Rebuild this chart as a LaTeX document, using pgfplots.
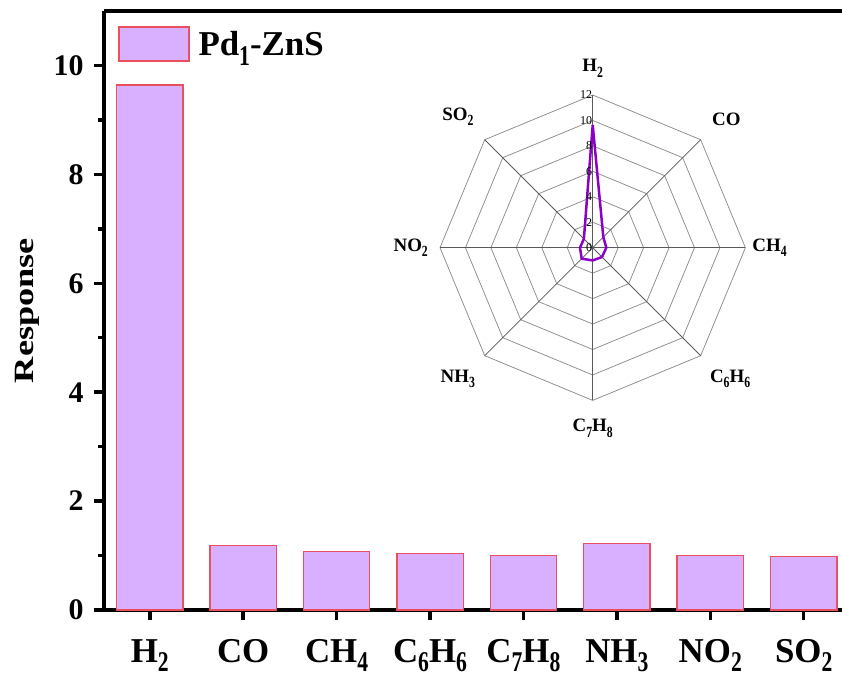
\documentclass[border=0pt]{standalone}
\usepackage{fontspec}
\setmainfont{Liberation Serif}
\newfontfamily\stretchfont[FakeStretch=1.3]{Liberation Serif}
\usepackage{graphicx}
\usepackage{pgfplots}
\pgfplotsset{compat=1.18}
\usetikzlibrary{calc}
\newcommand\sub[1]{\raisebox{-0.28em}{\scalebox{0.62}[0.82]{#1}}}
\definecolor{barfill}{RGB}{216,176,255}
\definecolor{baredge}{RGB}{232,80,96}
\definecolor{radarc}{RGB}{140,0,200}
\begin{document}
\begin{tikzpicture}
\begin{axis}[name=main,
  scale only axis, width=738bp, height=599bp,
  xmin=-0.49, xmax=7.41, ymin=0, ymax=11,
  axis x line*=bottom, axis y line*=left,
  axis line style={line width=3.5bp, -},
  clip=false,
  xtick={0,...,7},
  xticklabels={H\sub{2},CO,CH\sub{4},C\sub{6}H\sub{6},C\sub{7}H\sub{8},NH\sub{3},NO\sub{2},SO\sub{2}},
  ytick={0,2,...,10}, minor ytick={1,3,...,9},
  tick align=outside,
  major tick length=10bp, minor tick length=6bp,
  every tick/.style={black, line width=3.5bp},
  /pgf/number format/assume math mode=true,
  yticklabel style={font=\fontsize{30}{30}\selectfont\bfseries, xshift=-7bp},
  xticklabel style={font=\fontsize{35}{40}\selectfont\bfseries, anchor=base, yshift=-42bp},
  ylabel={\stretchfont\bfseries Response},
  ylabel style={font=\fontsize{28}{30}\selectfont, at={(axis description cs:-0.104,0.5)}, anchor=center},
  legend style={draw=none, fill=none, at={(0.015,0.978)}, anchor=north west,
    font=\fontsize{35}{40}\selectfont\bfseries, nodes={inner xsep=9bp}},
]
\addplot[ybar, bar width=0.71, fill=barfill, draw=baredge, line width=1.3bp,
  legend image code/.code={\draw[##1] (0bp,-17bp) rectangle (70bp,17bp);}]
  coordinates {(0,9.64) (1,1.18) (2,1.07) (3,1.035) (4,1.0) (5,1.22) (6,1.0) (7,0.98)};
\addlegendentry{Pd\sub{1}-ZnS}
\draw[line width=3.5bp] (rel axis cs:0,1) -- (rel axis cs:1,1);
\end{axis}
\begin{axis}[at={($(main.south west)+(488.7bp,362.3bp)$)}, anchor=origin,
  scale only axis, width=305.4bp, height=305.4bp,
  xmin=-12, xmax=12, ymin=-12, ymax=12, hide axis, clip=false]
\pgfplotsinvokeforeach{2,4,...,12}{
  \addplot[black!45, line width=0.75bp, data cs=polar] coordinates {(90,#1) (45,#1) (0,#1) (-45,#1) (-90,#1) (-135,#1) (180,#1) (135,#1) (90,#1)};
}
\addplot[black!65, line width=0.75bp, data cs=polar] coordinates {(90,12) (270,12)};
\addplot[black!65, line width=0.75bp, data cs=polar] coordinates {(45,12) (225,12)};
\addplot[black!65, line width=0.75bp, data cs=polar] coordinates {(0,12) (180,12)};
\addplot[black!65, line width=0.75bp, data cs=polar] coordinates {(135,12) (315,12)};
\addplot[radarc, line width=2.5bp, line join=round, data cs=polar] coordinates {(90,9.64) (45,1.18) (0,1.07) (-45,1.035) (-90,1.0) (-135,1.22) (180,1.0) (135,0.98) (90,9.64)};
\pgfplotsinvokeforeach{0,2,...,12}{
  \node[anchor=east, font=\fontsize{12}{12}\selectfont, inner sep=0.5bp] at (axis cs:0,#1) {#1};
}
\begin{scope}[every node/.style={font=\fontsize{19}{20}\selectfont\bfseries, inner sep=0pt}]
\node at (axis cs:0,14.1) {H\sub{2}};
\node at (axis cs:10.5,10.1) {CO};
\node at (axis cs:13.9,0) {CH\sub{4}};
\node at (axis cs:10.8,-10.3) {C\sub{6}H\sub{6}};
\node at (axis cs:0,-14.2) {C\sub{7}H\sub{8}};
\node at (axis cs:-10.6,-10.3) {NH\sub{3}};
\node at (axis cs:-14.3,0) {NO\sub{2}};
\node at (axis cs:-10.6,10.3) {SO\sub{2}};
\end{scope}
\end{axis}
\pgfresetboundingbox
\path ($(main.south west)+(-104bp,-69bp)$) rectangle ++(842bp,679bp);
\end{tikzpicture}
\end{document}
